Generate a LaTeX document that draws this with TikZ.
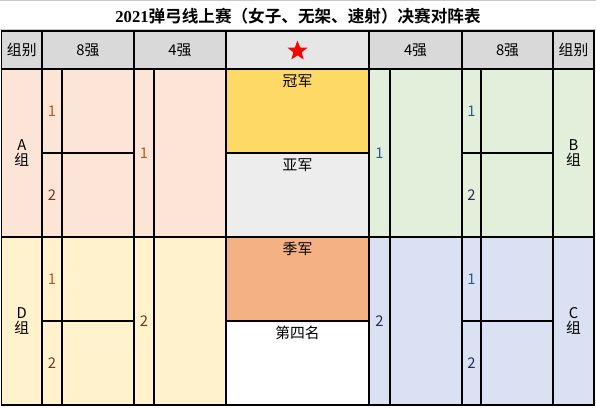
\documentclass[tikz,border=0pt]{standalone}
\usepackage{fontspec}
\setmainfont{Noto Sans CJK SC}[BoldFont={Noto Sans CJK SC Bold}]
\newfontfamily\serifdig{Liberation Serif}
\usetikzlibrary{shapes.geometric}
\definecolor{hdr}{HTML}{D9D9D9}
\definecolor{hdrstar}{HTML}{E7E6E6}
\definecolor{grpA}{HTML}{FCE4D6}
\definecolor{grpD}{HTML}{FFF2CC}
\definecolor{grpB}{HTML}{E2EFDA}
\definecolor{grpC}{HTML}{D9E1F2}
\definecolor{champ}{HTML}{FFD966}
\definecolor{second}{HTML}{EDEDED}
\definecolor{third}{HTML}{F4B183}
\definecolor{numL}{HTML}{B65A1E}
\definecolor{numL2}{HTML}{6B3A24}
\definecolor{numR}{HTML}{2E5C8F}
\definecolor{numR2}{HTML}{1F2F55}
\definecolor{gridgray}{HTML}{C8C8C8}
\tikzset{
  cell/.style={draw=black, line width=1.1pt, anchor=north west, inner sep=0pt, outer sep=0pt,
    font=\fontsize{14.8}{17.5}\selectfont, align=center},
  toptext/.style={anchor=north, inner sep=0pt, font=\fontsize{14.8}{17.5}\selectfont},
}
\newcommand{\cellbox}[7]{% name, x0, y0, x1, y1, fill, text
  \node[cell, fill=#6, minimum width={(#4-#2)*1pt}, minimum height={(#5-#3)*1pt}] (#1) at (#2,#3) {#7};}
\begin{document}
\begin{tikzpicture}[x=1pt, y=-1pt]
\useasboundingbox (0,0) rectangle (596,407);
\fill[white] (0,0) rectangle (596,407);
% title row
\draw[gridgray, line width=0.8pt] (0,0.5) -- (596,0.5);
\draw[gridgray, line width=0.8pt] (0,29) -- (596,29);
\node[anchor=center, inner sep=0pt, font=\fontsize{16.6}{19}\selectfont\bfseries] (title) at (298,16)
  {{\serifdig\bfseries 2021}弹弓线上赛（女子、无架、速射）决赛对阵表};
% header row
\cellbox{h1}{1.5}{31}{42}{69}{hdr}{组别}
\cellbox{h2}{42}{31}{134}{69}{hdr}{8强}
\cellbox{h3}{134}{31}{226}{69}{hdr}{4强}
\cellbox{h4}{226}{31}{369}{69}{hdrstar}{}
\cellbox{h5}{369}{31}{462}{69}{hdr}{4强}
\cellbox{h6}{462}{31}{553}{69}{hdr}{8强}
\cellbox{h7}{553}{31}{594}{69}{hdr}{组别}
\node[star, star points=5, star point ratio=2.4, fill=red, draw=none, minimum size=21pt, inner sep=0pt] (starmark) at ([yshift=-1pt]h4.center) {};
% A group
\cellbox{ga}{1.5}{69}{42}{237}{grpA}{A\\[-2pt]组}
\cellbox{a1n}{42}{69}{62}{153}{grpA}{\color{numL}1}
\cellbox{a1b}{62}{69}{134}{153}{grpA}{}
\cellbox{a2n}{42}{153}{62}{237}{grpA}{\color{numL2}2}
\cellbox{a2b}{62}{153}{134}{237}{grpA}{}
\cellbox{aqn}{134}{69}{154}{237}{grpA}{\color{numL}1}
\cellbox{aqb}{154}{69}{226}{237}{grpA}{}
% D group
\cellbox{gd}{1.5}{237}{42}{405}{grpD}{D\\[-2pt]组}
\cellbox{d1n}{42}{237}{62}{321}{grpD}{\color{numL}1}
\cellbox{d1b}{62}{237}{134}{321}{grpD}{}
\cellbox{d2n}{42}{321}{62}{405}{grpD}{\color{numL2}2}
\cellbox{d2b}{62}{321}{134}{405}{grpD}{}
\cellbox{dqn}{134}{237}{154}{405}{grpD}{\color{numL2}2}
\cellbox{dqb}{154}{237}{226}{405}{grpD}{}
% center column
\cellbox{c1}{226}{69}{369}{153}{champ}{}
\cellbox{c2}{226}{153}{369}{237}{second}{}
\cellbox{c3}{226}{237}{369}{321}{third}{}
\cellbox{c4}{226}{321}{369}{405}{white}{}
\node[toptext] (t1) at ([yshift=-5pt]c1.north) {冠军};
\node[toptext] (t2) at ([yshift=-5pt]c2.north) {亚军};
\node[toptext] (t3) at ([yshift=-5pt]c3.north) {季军};
\node[toptext] (t4) at ([yshift=-5pt]c4.north) {第四名};
% B group
\cellbox{bqn}{369}{69}{390}{237}{grpB}{\color{numR}1}
\cellbox{bqb}{390}{69}{462}{237}{grpB}{}
\cellbox{b1n}{462}{69}{481}{153}{grpB}{\color{numR}1}
\cellbox{b1b}{481}{69}{553}{153}{grpB}{}
\cellbox{b2n}{462}{153}{481}{237}{grpB}{\color{numR2}2}
\cellbox{b2b}{481}{153}{553}{237}{grpB}{}
\cellbox{gb}{553}{69}{594}{237}{grpB}{B\\[-2pt]组}
% C group
\cellbox{cqn}{369}{237}{390}{405}{grpC}{\color{numR2}2}
\cellbox{cqb}{390}{237}{462}{405}{grpC}{}
\cellbox{c1n}{462}{237}{481}{321}{grpC}{\color{numR}1}
\cellbox{c1b}{481}{237}{553}{321}{grpC}{}
\cellbox{c2n}{462}{321}{481}{405}{grpC}{\color{numR2}2}
\cellbox{c2b}{481}{321}{553}{405}{grpC}{}
\cellbox{gc}{553}{237}{594}{405}{grpC}{C\\[-2pt]组}
\end{tikzpicture}
\end{document}
